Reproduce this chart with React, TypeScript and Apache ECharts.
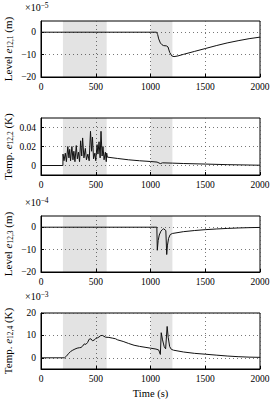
import React, { useEffect, useRef } from "react";
import * as echarts from "echarts";

const timeTicks = [0, 500, 1000, 1500, 2000];
const bandRanges: [number, number][] = [[200, 600], [1000, 1200]];

// Level e12,1 (x 1e-5 m)
const level1: [number, number][] = [
  [0, 0], [1055, 0], [1065, -1], [1075, -3], [1090, -4.8], [1105, -5.6], [1120, -6], [1145, -6.1],
  [1160, -6.6], [1175, -9], [1195, -10.6], [1215, -10.9], [1250, -10.6], [1300, -9.9], [1400, -8.6],
  [1500, -7.3], [1600, -6.0], [1700, -4.8], [1800, -3.8], [1900, -2.9], [2000, -2.2],
];

// Temp e12,2 (K)
const temp2: [number, number][] = [
  [0, 0], [200, 0], [201, 0.012], [210, 0.005], [222, 0.013], [232, 0.004], [245, 0.02], [255, 0.008],
  [262, 0.017], [270, 0.005], [282, 0.02], [292, 0.006], [300, 0.015], [310, 0.004], [322, 0.021],
  [332, 0.007], [342, 0.014], [352, 0.004], [362, 0.026], [372, 0.01], [380, 0.029], [392, 0.008],
  [405, 0.018], [415, 0.006], [428, 0.012], [440, 0.005], [452, 0.036], [462, 0.015], [470, 0.03],
  [480, 0.007], [492, 0.013], [500, 0.005], [512, 0.022], [520, 0.012], [530, 0.025], [540, 0.008],
  [548, 0.036], [558, 0.01], [566, 0.02], [576, 0.006], [588, 0.014], [596, 0.004], [600, 0.013],
  [606, 0.0088], [700, 0.0074], [800, 0.006], [900, 0.005], [1000, 0.0042], [1060, 0.0036],
  [1090, 0.002], [1110, 0.0028], [1200, 0.0025], [1300, 0.0021], [1500, 0.0015], [1700, 0.0009],
  [1900, 0.0005], [2000, 0.0003],
];

// Level e12,3 (x 1e-4 m)
const level3: [number, number][] = [
  [0, 0], [1058, 0], [1062, -10.3], [1070, -6], [1080, -3.5], [1095, -1.8], [1110, -1], [1120, -0.7],
  [1140, -1.5], [1148, -12.2], [1155, -8], [1165, -5], [1180, -3.3], [1200, -2.8], [1300, -2],
  [1400, -1.5], [1500, -1.1], [1600, -0.8], [1700, -0.55], [1800, -0.35], [1900, -0.2], [2000, -0.1],
];

// Temp e12,4 (x 1e-3 K)
const temp4: [number, number][] = [
  [0, 0], [215, 0], [230, 0.6], [250, 1.8], [270, 2.8], [290, 3.4], [310, 3.9], [330, 4.3], [350, 4.5],
  [365, 4.6], [380, 5.2], [395, 6.2], [410, 6], [425, 6.8], [440, 8.3], [455, 8.5], [470, 7.6],
  [485, 7.9], [500, 8.6], [515, 8.9], [530, 9.3], [545, 9.9], [560, 10], [575, 9.6], [590, 9.2],
  [620, 9.1], [650, 8.8], [680, 8.5], [700, 8], [750, 7.3], [800, 6.4], [850, 5.6], [900, 5.1],
  [950, 4.7], [1000, 4.3], [1050, 3.9], [1075, 3.5], [1090, 1.5], [1098, 11.2], [1110, 8], [1125, 5],
  [1138, 4], [1152, 14], [1162, 9], [1175, 5], [1190, 3.8], [1210, 3.4], [1300, 2.6], [1400, 2],
  [1500, 1.6], [1600, 1.2], [1700, 0.8], [1800, 0.5], [1900, 0.3], [2000, 0.2],
];

const yTicks1 = [-20, -10, 0];
const yTicks2 = [0, 0.02, 0.04];
const yTicks3 = [-20, -10, 0];
const yTicks4 = [0, 10, 20];

const FONT = "Liberation Serif";

const gridBoxes = [
  { top: 21, height: 56 },
  { top: 118, height: 57 },
  { top: 216, height: 56 },
  { top: 313, height: 56 },
];

const fmtMinus = (v: number) => String(v).replace("-", "\u2212");

function makeYAxis(i: number, min: number, max: number, ticks: number[], name: string) {
  return {
    type: "value",
    gridIndex: i,
    min,
    max,
    name,
    nameLocation: "middle",
    nameGap: 27,
    nameRotate: 90,
    nameMoveOverlap: false,
    nameTextStyle: {
      fontFamily: FONT,
      fontSize: 11,
      color: "#000",
      rich: {
        e: { fontFamily: FONT, fontSize: 11, fontStyle: "italic", color: "#000" },
        s: { fontFamily: FONT, fontSize: 7.5, color: "#000", verticalAlign: "bottom", padding: [4, 0, 0, 0] },
      },
    },
    axisLine: { show: true, lineStyle: { color: "#000", width: 1 } },
    axisTick: { show: true, inside: true, length: 3, customValues: ticks, lineStyle: { color: "#000" } },
    axisLabel: {
      customValues: ticks,
      formatter: (v: number) => fmtMinus(v),
      fontFamily: FONT,
      fontSize: 9.5,
      color: "#000",
      margin: 5,
    },
    splitLine: { show: true, lineStyle: { color: "#555", type: [1, 3], width: 0.8 } },
  };
}

function makeXAxis(i: number, withName: boolean) {
  return {
    type: "value",
    gridIndex: i,
    min: 0,
    max: 2000,
    interval: 500,
    name: withName ? "Time (s)" : "",
    nameLocation: "middle",
    nameGap: 19,
    nameTextStyle: { fontFamily: FONT, fontSize: 10.5, color: "#000" },
    axisLine: { show: true, onZero: false, lineStyle: { color: "#000", width: 1 } },
    axisTick: { show: true, inside: true, length: 3, lineStyle: { color: "#000" } },
    axisLabel: {
      fontFamily: FONT,
      fontSize: 9.5,
      color: "#000",
      margin: 5,
      customValues: timeTicks,
      formatter: (v: number) => String(v),
    },
    splitLine: { show: true, lineStyle: { color: "#555", type: [1, 3], width: 0.8 } },
  };
}

function makeSeries(i: number, data: [number, number][]) {
  return {
    type: "line",
    xAxisIndex: i,
    yAxisIndex: i,
    data,
    showSymbol: false,
    symbol: "none",
    lineStyle: { color: "#111", width: 1 },
    z: 5,
    markArea: {
      silent: true,
      itemStyle: { color: "rgba(0,0,0,0.11)" },
      data: bandRanges.map(([a, b]) => [{ xAxis: a }, { xAxis: b }]),
    },
  };
}

function multiplier(top: number, exp: string) {
  return {
    type: "text",
    left: 25,
    top,
    style: {
      text: "\u00d710{s|" + exp + "}",
      fontFamily: FONT,
      fontSize: 10,
      fill: "#000",
      rich: {
        s: { fontFamily: FONT, fontSize: 7.5, fill: "#000", verticalAlign: "top", padding: [0, 0, 5, 0] },
      },
    },
  };
}

export default function App() {
  const ref = useRef<HTMLDivElement>(null);
  useEffect(() => {
    if (!ref.current) return;
    const chart = echarts.init(ref.current, undefined, { renderer: "svg" });
    chart.setOption({
      animation: false,
      backgroundColor: "#fff",
      grid: gridBoxes.map((g) => ({
        left: 41,
        right: 12,
        top: g.top,
        height: g.height,
        show: true,
        borderColor: "#000",
        borderWidth: 1,
        backgroundColor: "transparent",
        outerBoundsMode: "none",
        containLabel: false,
      })),
      xAxis: [makeXAxis(0, false), makeXAxis(1, false), makeXAxis(2, false), makeXAxis(3, true)],
      yAxis: [
        makeYAxis(0, -20, 5, yTicks1, "Level {e|e}{s|12,1} (m)"),
        makeYAxis(1, -0.01, 0.05, yTicks2, "Temp. {e|e}{s|12,2} (K)"),
        makeYAxis(2, -20, 5, yTicks3, "Level {e|e}{s|12,3} (m)"),
        makeYAxis(3, -5, 20, yTicks4, "Temp. {e|e}{s|12,4} (K)"),
      ],
      series: [
        makeSeries(0, level1),
        makeSeries(1, temp2),
        makeSeries(2, level3),
        makeSeries(3, temp4),
      ],
      graphic: [multiplier(1, "\u22125"), multiplier(196, "\u22124"), multiplier(290, "\u22123")],
    });
    return () => chart.dispose();
  }, []);
  return (
    <div
      ref={ref}
      style={{ position: "fixed", left: 0, top: 0, width: 272, height: 399 }}
    />
  );
}
